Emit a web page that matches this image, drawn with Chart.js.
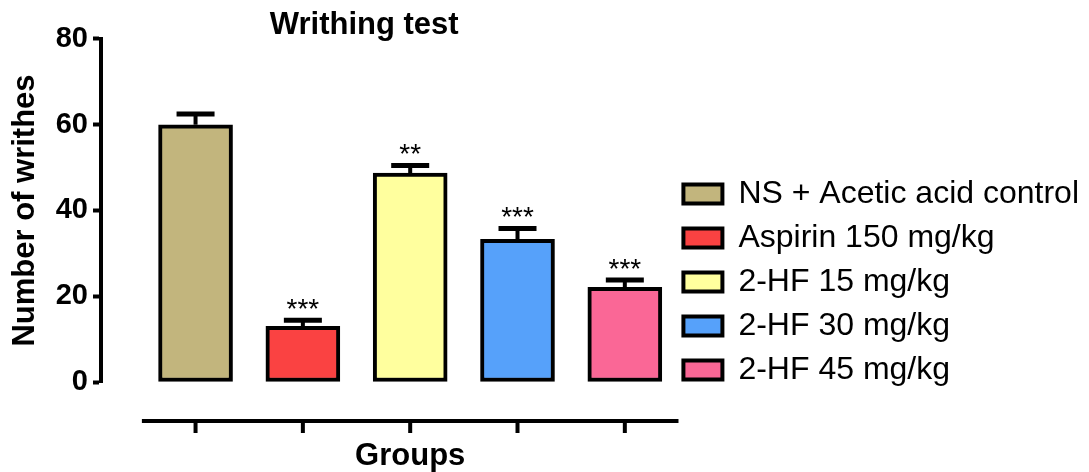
<!DOCTYPE html>
<html>
<head>
<meta charset="utf-8">
<script src="https://cdn.jsdelivr.net/npm/chart.js@4.4.1/dist/chart.umd.min.js"></script>
<style>
  html, body { margin: 0; padding: 0; background: #ffffff; }
  #wrap { width: 1089px; height: 472px; }
</style>
</head>
<body>
<div id="wrap"><canvas id="c" width="1089" height="472"></canvas></div>
<script>
// ---- data ----
const categories = ['NS + Acetic acid control', 'Aspirin 150 mg/kg', '2-HF 15 mg/kg', '2-HF 30 mg/kg', '2-HF 45 mg/kg'];
const means = [60, 13, 48.7, 33.3, 22.1];
const sems = [2.5, 1.4, 1.8, 2.5, 1.7];
const significance = ['', '***', '**', '***', '***'];
const yTicks = [0, 20, 40, 60, 80];
const barColors = ['#C2B57D', '#FA4242', '#FFFF9E', '#56A1FA', '#FA6796'];

const FONT = "'Liberation Sans', Arial, sans-serif";
Chart.defaults.font.family = FONT;
Chart.defaults.color = '#000';

const axisPlugin = {
  id: 'groupAxis',
  afterLayout(chart) {
    const xs = chart.scales.x;
    const l = xs.getPixelForValue(-0.5);
    const r = xs.getPixelForValue(categories.length - 0.5);
    xs.left = l; xs.right = r;
    const t = chart.titleBlock;
    if (t) { t.left = 50; t.right = r; }
  },
  afterDatasetsDraw(chart) {
    const { ctx } = chart;
    const xs = chart.scales.x, ys = chart.scales.y;
    ctx.save();
    ctx.strokeStyle = '#000';
    ctx.fillStyle = '#000';
    means.forEach((m, i) => {
      const cx = xs.getPixelForValue(i);
      const yTop = ys.getPixelForValue(m);
      const yErr = ys.getPixelForValue(m + sems[i]);
      ctx.lineWidth = 4;
      ctx.beginPath(); ctx.moveTo(cx, yTop); ctx.lineTo(cx, yErr); ctx.stroke();
      ctx.lineWidth = 5;
      ctx.beginPath(); ctx.moveTo(cx - 19, yErr); ctx.lineTo(cx + 19, yErr); ctx.stroke();
      if (significance[i]) {
        ctx.font = '28px ' + FONT;
        ctx.textAlign = 'center';
        ctx.textBaseline = 'alphabetic';
        ctx.fillText(significance[i], cx, yErr - 2);
      }
    });
    // detached category axis
    const yAxis = ys.getPixelForValue(0) + 39;
    const l = xs.getPixelForValue(-0.5);
    const r = xs.getPixelForValue(categories.length - 0.5);
    ctx.lineWidth = 4;
    ctx.beginPath(); ctx.moveTo(l, yAxis); ctx.lineTo(r, yAxis); ctx.stroke();
    categories.forEach((c, i) => {
      const cx = xs.getPixelForValue(i);
      ctx.beginPath(); ctx.moveTo(cx, yAxis); ctx.lineTo(cx, yAxis + 12); ctx.stroke();
    });
    ctx.restore();
  }
};

new Chart(document.getElementById('c'), {
  type: 'bar',
  data: {
    datasets: [{
      label: 'Number of writhes',
      data: means.map((v, i) => ({ x: i, y: v })),
      backgroundColor: barColors,
      borderColor: '#000',
      borderWidth: 4,
      borderSkipped: false,
      barThickness: 74
    }]
  },
  options: {
    responsive: false,
    devicePixelRatio: 1,
    animation: false,
    layout: { padding: { left: 0, right: 0, top: 0, bottom: 0 } },
    plugins: {
      tooltip: { enabled: false },
      title: {
        display: true,
        text: 'Writhing test',
        fullSize: false,
        font: { size: 31, weight: 'bold', lineHeight: 0.87 },
        padding: { top: 12, bottom: 0 },
        color: '#000'
      },
      legend: {
        position: 'right',
        align: 'center',
        maxWidth: 600,
        title: { display: true, text: '', font: { size: 12, lineHeight: 1 }, padding: { top: 40, bottom: 40 } },
        labels: {
          boxWidth: 39,
          boxHeight: 19,
          padding: 12,
          color: '#000',
          font: { size: 32 },
          generateLabels: () => categories.map((c, i) => ({
            text: c, fillStyle: barColors[i], strokeStyle: '#000', lineWidth: 4,
            hidden: false, index: i, datasetIndex: 0
          }))
        }
      }
    },
    scales: {
      x: {
        type: 'linear',
        offset: false,
        min: -0.881,
        max: 4.434,
        grid: { display: false, drawTicks: false },
        border: { display: false },
        ticks: { display: false },
        title: {
          display: true, text: 'Groups', color: '#000',
          font: { size: 31, weight: 'bold', lineHeight: 1 },
          padding: { top: 59, bottom: 0 }
        }
      },
      y: {
        min: 0,
        max: 80,
        afterBuildTicks: (s) => { s.ticks = yTicks.map(v => ({ value: v })); },
        afterFit: (s) => { s.width = 101; },
        grid: { display: true, drawOnChartArea: false, drawTicks: true, tickLength: 8, tickWidth: 4, tickColor: '#000' },
        border: { display: true, color: '#000', width: 4 },
        ticks: { color: '#000', padding: 5, font: { size: 29, weight: 'bold' } },
        title: {
          display: true, text: 'Number of writhes', color: '#000',
          font: { size: 31, weight: 'bold', lineHeight: 1 },
          padding: { top: 10, bottom: 0 }
        }
      }
    }
  },
  plugins: [axisPlugin]
});
</script>
</body>
</html>
